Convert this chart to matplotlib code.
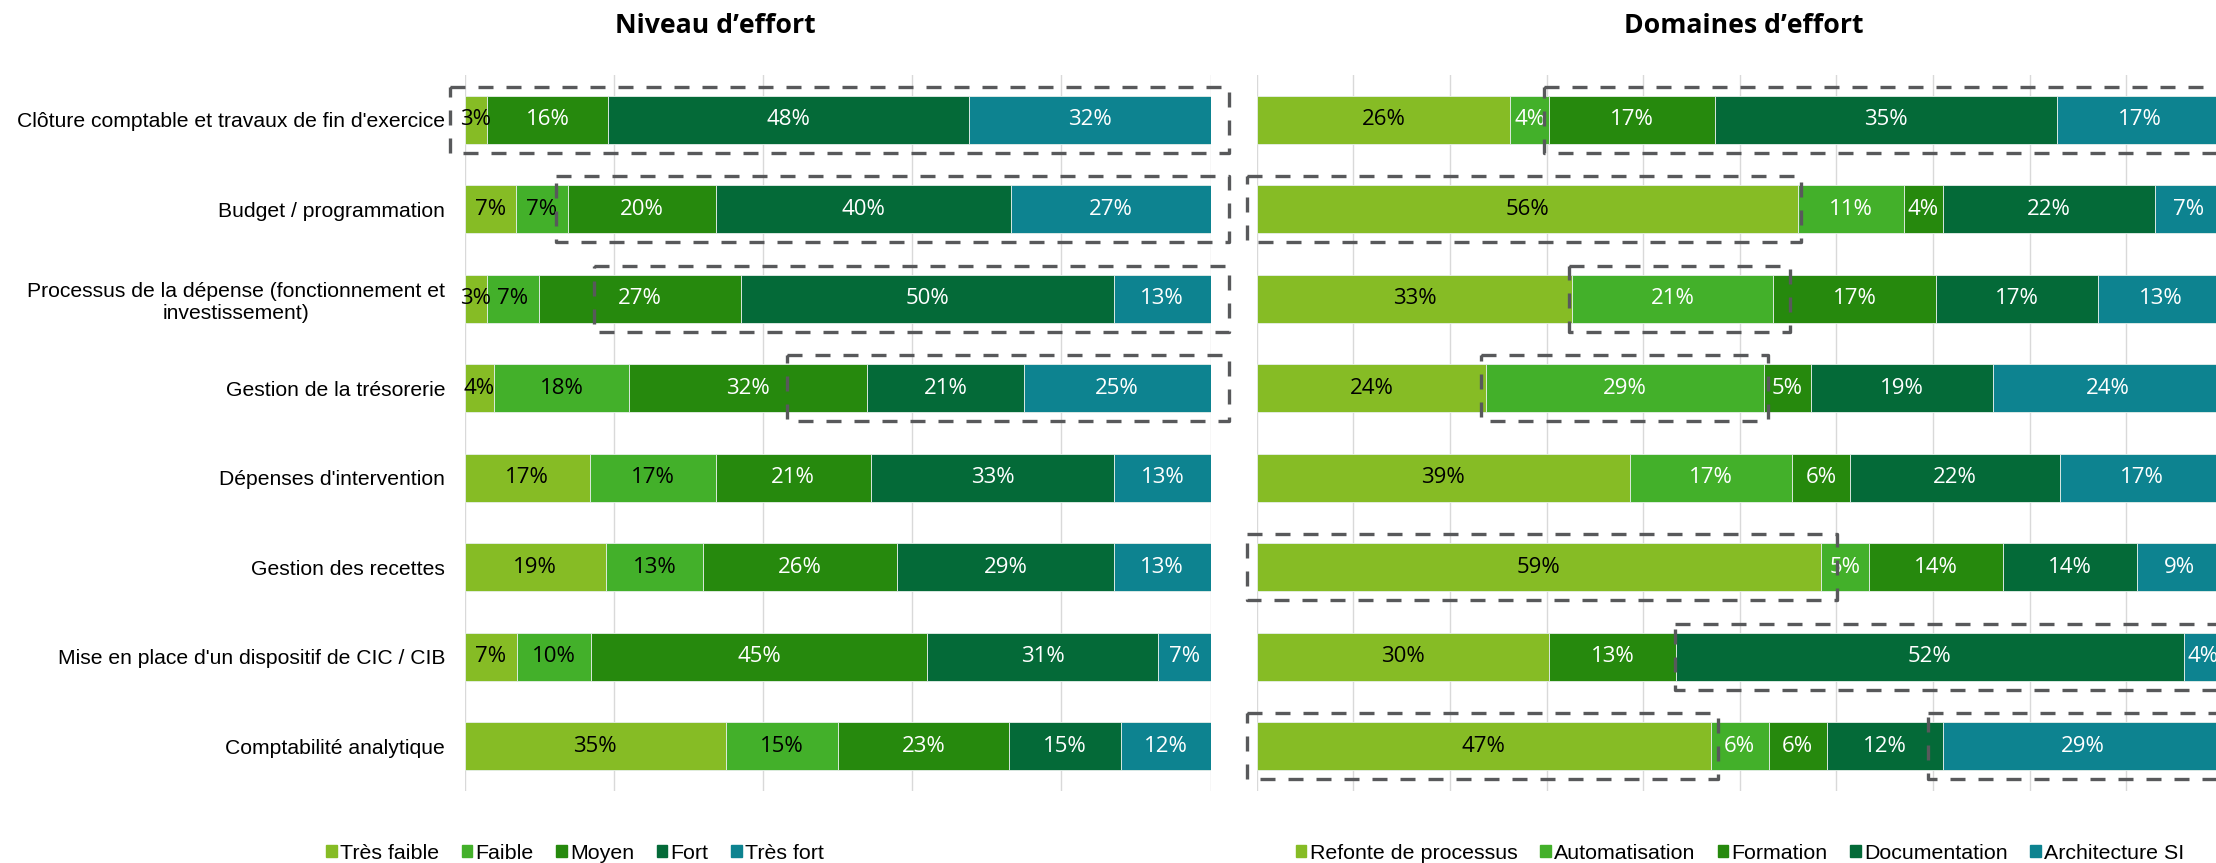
import matplotlib
matplotlib.use("Agg")
import matplotlib.pyplot as plt
from matplotlib.patches import Rectangle, Patch
import numpy as np

plt.rcParams['font.family'] = ['Liberation Sans', 'DejaVu Sans']

# --- Data ---
tasks = [
    "Clôture comptable et travaux de fin d'exercice",
    "Budget / programmation",
    "Processus de la dépense (fonctionnement et\ninvestissement)",
    "Gestion de la trésorerie",
    "Dépenses d'intervention",
    "Gestion des recettes",
    "Mise en place d'un dispositif de CIC / CIB",
    "Comptabilité analytique",
]

niveau_names = ["Très faible", "Faible", "Moyen", "Fort", "Très fort"]
tres_faible = [3, 7, 3, 4, 17, 19, 7, 35]
faible = [0, 7, 7, 18, 17, 13, 10, 15]
moyen = [16, 20, 27, 32, 21, 26, 45, 23]
fort = [48, 40, 50, 21, 33, 29, 31, 15]
tres_fort = [32, 27, 13, 25, 13, 13, 7, 12]

domaine_names = ["Refonte de processus", "Automatisation", "Formation",
                 "Documentation", "Architecture SI"]
refonte = [26, 56, 33, 24, 39, 59, 30, 47]
automatisation = [4, 11, 21, 29, 17, 5, 0, 6]
formation = [17, 4, 17, 5, 6, 14, 13, 6]
documentation = [35, 22, 17, 19, 22, 14, 52, 12]
architecture = [17, 7, 13, 24, 17, 9, 4, 29]

colors = ["#86BC25", "#43B02A", "#26890D", "#046A38", "#0D8390"]

# highlighted zones: (row, start %, end %)
boxes_niveau = [(0, -2, 102.5), (1, 12.3, 102.5), (2, 17.4, 102.5), (3, 43.2, 102.5)]
boxes_domaines = [(0, 29.7, 106), (1, -1, 56.3), (2, 32.3, 55.2), (3, 23.2, 52.9),
                  (5, -1, 60.1), (6, 43.3, 106), (7, -1, 47.8), (7, 69.5, 106)]


def draw_panel(ax, series, n_dark, boxes, step, labels=None):
    data = np.array(series, dtype=float)
    totals = data.sum(axis=0)
    widths = data / totals * 100  # 100% stacked
    y = np.arange(len(tasks))
    left = np.zeros(len(tasks))
    for i, (vals, w) in enumerate(zip(data, widths)):
        ax.barh(y, w, left=left, height=0.536, color=colors[i],
                edgecolor='#E6EFEA', linewidth=0.6, zorder=2)
        txt_color = 'black' if i < n_dark else 'white'
        for j in range(len(tasks)):
            if vals[j] > 0:
                ax.text(left[j] + w[j] / 2, y[j], f"{int(vals[j])}%",
                        ha='center', va='center', color=txt_color,
                        fontsize=16, family='Open Sans', zorder=3)
        left += w

    for row, x0, x1 in boxes:
        ax.add_patch(Rectangle((x0, row - 0.37), x1 - x0, 0.74, fill=False,
                               edgecolor='#58595B', linewidth=2.4,
                               linestyle=(0, (4.5, 3.9)), joinstyle='round',
                               clip_on=False, zorder=5))

    ax.set_xlim(0, 100)
    ax.set_ylim(len(tasks) - 0.5, -0.5)
    ax.set_xticks(np.arange(0, 101, step))
    ax.grid(axis='x', color='#D9D9D9', linewidth=1.0)
    ax.set_axisbelow(True)
    for s in ax.spines.values():
        s.set_visible(False)
    ax.tick_params(length=0, labelbottom=False)
    ax.set_yticks(y)
    if labels:
        ax.set_yticklabels(labels, fontsize=15.25)
        ax.tick_params(axis='y', pad=14)
        for t in ax.get_yticklabels():
            t.set_multialignment('center')
    else:
        ax.set_yticklabels([])


W, H = 2216, 863
fig = plt.figure(figsize=(W / 100, H / 100), dpi=100)

ax1 = fig.add_axes([464.5 / W, 72 / H, 746 / W, 716 / H])
ax2 = fig.add_axes([1256.7 / W, 72 / H, 966 / W, 716 / H])

draw_panel(ax1, [tres_faible, faible, moyen, fort, tres_fort], 2, boxes_niveau, 20, tasks)
draw_panel(ax2, [refonte, automatisation, formation, documentation, architecture], 1,
           boxes_domaines, 10)

fig.text(715 / W, 1 - 26 / H, "Niveau d’effort", ha='center', va='center',
         fontsize=19.2, family='Open Sans', weight='bold')
fig.text(1744 / W, 1 - 26 / H, "Domaines d’effort", ha='center', va='center',
         fontsize=19.2, family='Open Sans', weight='bold')

for names, cx in [(niveau_names, 575), (domaine_names, 1740)]:
    handles = [Patch(color=c, label=n) for c, n in zip(colors, names)]
    fig.legend(handles=handles, loc='center', bbox_to_anchor=(cx / W, 10 / H),
               ncol=5, frameon=False, fontsize=15.4, handlelength=0.5,
               handleheight=0.5, handletextpad=0.15, columnspacing=1.05,
               borderpad=0)

fig.savefig("out.png", dpi=100)
